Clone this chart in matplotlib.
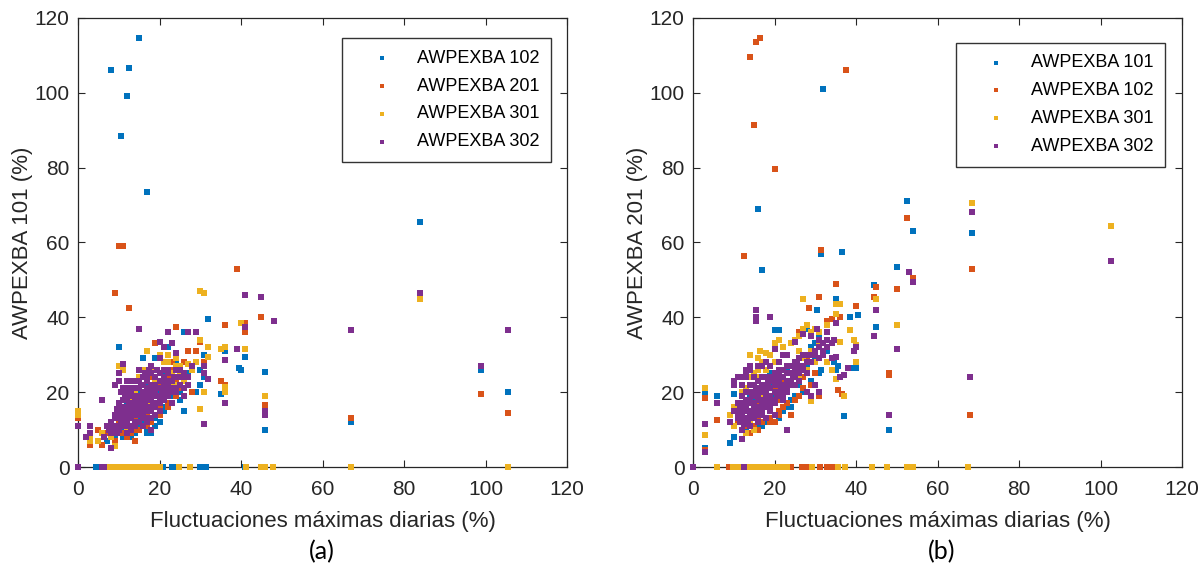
import matplotlib
matplotlib.use("Agg")
import matplotlib.pyplot as plt

plt.rcParams['font.family'] = ['Liberation Sans', 'DejaVu Sans']

colors = ['#0072BD', '#D95319', '#EDB120', '#7E2F8E']

# ---------------- Panel (a): y = AWPEXBA 101 ----------------
a_labels = ['AWPEXBA 102', 'AWPEXBA 201', 'AWPEXBA 301', 'AWPEXBA 302']

a_102 = [(15, 114.5), (8, 106), (12.5, 106.5), (12, 99), (10.5, 88.5), (17, 73.5), (11, 59), (84, 65.5),
         (10, 32), (32, 39.5), (26, 36), (40, 26), (39.5, 26.5), (41, 29.5), (46, 25.5), (46, 10), (36, 31),
         (36, 17), (35, 19.5), (67, 12), (99, 26), (105.5, 20), (30, 22), (22, 32), (19, 29), (16, 29),
         (26, 15), (9, 8), (13, 8), (18, 9), (20, 12),
         (10, 12), (12, 14), (14, 16), (15, 13), (17, 18), (18, 15), (20, 20), (22, 21), (24, 22), (25, 18),
         (27, 25), (28, 27), (30, 26), (31, 24), (11, 10), (13, 11), (16, 12), (19, 11), (21, 15), (23, 19),
         (9, 11), (8, 9), (6, 6), (7, 7), (31, 30), (24, 28), (21, 25), (17, 22), (15, 20), (12, 17), (10, 16),
         (14, 9), (29, 20), (11, 8), (15, 11), (17, 10), (19, 13), (21, 16), (23, 17), (25, 20), (17, 9),
         (13, 10),
         (4.4, 0), (5.4, 0), (20.9, 0), (23, 0), (23.6, 0), (30, 0), (31.4, 0), (41, 0)]

a_201 = [(10, 59), (11, 59), (9, 46.5), (12.5, 42.5), (39, 53), (45, 40), (41, 38.5), (41, 36), (36, 38),
         (24, 37.5), (46, 16.5), (46, 15), (67, 13), (99, 19.5), (105.5, 14.5), (30, 33.5), (29, 31), (27, 31),
         (19, 33), (31, 28), (36, 22), (35, 23), (14, 7), (3, 6), (6, 6), (0, 13),
         (8, 8), (9, 10), (10, 12), (11, 14), (12, 11), (13, 15), (14, 13), (15, 17), (16, 18), (17, 14),
         (18, 20), (19, 19), (20, 22), (21, 18), (22, 24), (23, 26), (24, 23), (25, 21), (26, 28), (28, 20),
         (12, 18), (15, 10), (10, 9), (20, 16), (22, 16), (18, 24), (23, 28), (26, 25), (17, 11), (7, 9),
         (5, 10), (12, 8), (14, 10), (16, 11), (18, 12), (20, 14), (22, 17), (24, 19), (11, 9), (9, 7),
         (13, 9),
         (6, 0)]

a_301 = [(0, 15), (0, 14), (30, 47), (31, 46.5), (40, 38.5), (41, 31.5), (36, 32), (35, 31.5), (32, 32),
         (32, 29.5), (29, 28), (36, 21.5), (36, 20), (31, 20), (30, 15.5), (46, 19), (84, 45), (30, 34),
         (27, 27.5), (24, 29), (21, 28), (17, 31), (3, 8), (3, 7), (9, 5.5), (11, 26), (10, 27), (19, 26),
         (8, 10), (9, 11), (10, 13), (11, 16), (12, 14), (13, 18), (14, 20), (15, 16), (16, 22), (17, 19),
         (18, 17), (19, 23), (20, 21), (21, 24), (22, 19), (23, 25), (24, 22), (25, 27), (26, 23), (28, 26),
         (14, 12), (12, 10), (16, 13), (20, 18), (22, 28), (18, 25), (6, 9), (5, 7),
         (9, 9), (10, 10), (11, 12), (8, 8), (13, 13), (15, 14), (17, 17), (19, 20), (21, 22), (23, 22),
         (25, 25), (13, 21), (15, 24), (16, 26), (20, 30), (22, 30), (24, 27),
         (7.6, 0), (8.3, 0), (9, 0), (9.7, 0), (10.4, 0), (11.1, 0), (11.8, 0), (12.5, 0), (13.2, 0),
         (13.9, 0), (14.6, 0), (15.3, 0), (16, 0), (16.7, 0), (17.4, 0), (18.1, 0), (18.8, 0), (19.5, 0),
         (20.2, 0), (24.8, 0), (27.5, 0), (41.3, 0), (45, 0), (45.8, 0), (47.9, 0), (67, 0), (105.5, 0)]

a_302 = [(0, 11), (3, 11), (3, 9), (2, 8), (6, 18), (8, 5), (15, 37), (41, 46), (45, 45.5), (48, 39),
         (41, 37.5), (39, 31.5), (36, 28.5), (36, 17), (31, 11.5), (31, 25), (32, 23.5), (31, 27), (29, 36),
         (27, 36), (22, 36), (20, 33.5), (23, 33), (24, 30.5), (26, 19), (27, 24), (84, 46.5), (67, 36.5),
         (99, 27), (105.5, 36.5), (46, 14), (46, 15), (11, 27.5), (10, 23), (10, 25), (9, 22), (12, 23),
         (18, 27), (20, 29), (17, 25),
         (8, 12), (9, 13), (9, 10), (10, 14), (10, 11), (11, 12), (11, 15), (11, 18), (12, 13), (12, 16),
         (12, 20), (13, 14), (13, 17), (13, 11), (14, 15), (14, 18), (14, 21), (15, 14), (15, 17), (15, 19),
         (15, 23), (16, 16), (16, 13), (16, 20), (16, 24), (17, 15), (17, 18), (17, 21), (18, 16), (18, 19),
         (18, 22), (18, 13), (19, 17), (19, 20), (19, 24), (20, 18), (20, 21), (20, 15), (21, 19), (21, 22),
         (21, 26), (22, 20), (22, 23), (23, 21), (23, 17), (24, 24), (24, 20), (25, 22), (25, 26), (26, 21),
         (10, 17), (11, 21), (13, 20), (14, 12), (16, 11), (19, 14), (7, 11), (8, 9), (12, 9), (17, 12),
         (13, 23), (15, 26), (17, 24), (22, 26), (20, 25), (18, 10),
         (10, 13), (10, 15), (11, 13), (11, 16), (12, 12), (12, 15), (12, 18), (13, 13), (13, 16), (13, 19),
         (14, 14), (14, 17), (14, 19), (15, 15), (15, 18), (15, 21), (16, 14), (16, 17), (16, 19), (16, 22),
         (17, 16), (17, 19), (17, 23), (18, 15), (18, 18), (18, 21), (18, 25), (19, 16), (19, 19), (19, 22),
         (20, 17), (20, 19), (20, 23), (21, 18), (21, 21), (21, 24), (22, 19), (22, 22), (22, 25), (23, 20),
         (23, 23), (24, 21), (24, 26), (9, 14), (10, 10), (11, 11), (12, 11), (13, 10), (14, 11), (15, 12),
         (16, 15), (17, 13), (9.5, 9), (10.5, 12.5), (11.5, 14.5), (12.5, 17), (13.5, 15), (14.5, 16.5),
         (15.5, 18), (16.5, 17.5), (17.5, 20), (18.5, 17), (19.5, 21), (20.5, 20), (21.5, 23), (22.5, 21),
         (23.5, 24), (11.5, 19), (13.5, 21), (15.5, 22), (17.5, 26), (19.5, 26), (14.5, 23), (12.5, 21),
         (16.5, 25), (10.5, 20), (8.5, 11), (7.5, 10), (6.5, 8), (9.5, 15.5), (25.5, 24), (26, 25), (27, 22),
         (28, 27), (21, 32),
         (0, 0), (5.8, 0), (6.3, 0)]

# ---------------- Panel (b): y = AWPEXBA 201 ----------------
b_labels = ['AWPEXBA 101', 'AWPEXBA 102', 'AWPEXBA 301', 'AWPEXBA 302']

b_101 = [(32, 101), (16, 69), (17, 52.5), (31.5, 57), (36.5, 57.5), (52.5, 71), (54, 63), (68.5, 62.5),
         (50, 53.5), (44.5, 48.5), (35, 45), (30.5, 42), (38.5, 40), (40.5, 40.5), (45, 37.5), (20, 36.5),
         (21, 36.5), (3, 19.5), (6, 19), (3, 5), (9, 6.5), (48, 10), (37, 13.5), (39, 26.5), (40, 26.5),
         (35, 26), (31.5, 26), (34.5, 28), (35.5, 27), (10, 19.5), (14, 19.5), (15, 10), (10, 8), (28, 37),
         (30, 33),
         (11, 14), (12, 12), (13, 16), (14, 13), (15, 18), (16, 15), (17, 20), (18, 17), (19, 22), (20, 19),
         (21, 24), (22, 21), (23, 26), (24, 23), (25, 28), (26, 25), (27, 30), (28, 27), (29, 32), (30, 29),
         (18, 12), (22, 15), (24, 18), (20, 14), (16, 11), (13, 10), (26, 22), (33, 31), (31, 35), (19, 25),
         (17, 11), (21, 13), (23, 16), (25, 19), (27, 20), (29, 23), (31, 25), (24, 16)]

b_102 = [(16.5, 114.5), (15.5, 113.5), (14, 109.5), (37.5, 106), (15, 91.5), (20, 79.5), (12.5, 56.5),
         (31.5, 58), (52.5, 66.5), (54, 50.5), (68.5, 53), (68, 14), (50, 47.5), (45, 48), (44.5, 45.5),
         (35, 49), (31, 45.5), (28.5, 42.5), (34, 39.5), (33, 39), (36, 40), (40, 43), (48, 25), (48, 24.5),
         (35.5, 20.5), (36.5, 19.5), (31, 19), (29, 30.5), (3, 18.5), (6, 12.5), (3, 4.5), (27, 30), (26, 36),
         (11, 12), (12, 14), (13, 11), (14, 15), (15, 13), (16, 17), (17, 14), (18, 19), (19, 16), (20, 21),
         (21, 18), (22, 23), (23, 20), (24, 25), (25, 22), (26, 27), (27, 24), (28, 29), (14, 9), (16, 10),
         (18, 13), (20, 12), (22, 16), (24, 14), (26, 19), (19, 12), (21, 14), (30, 25),
         (15, 11), (17, 12), (19, 13), (21, 15), (23, 17), (25, 18), (27, 21), (29, 22), (16, 12.5), (14, 11),
         (8.8, 0), (24, 0), (26.7, 0), (28, 0), (31.2, 0), (33, 0), (33.6, 0), (34.2, 0)]

b_301 = [(68.5, 70.5), (102.5, 64.5), (50, 38), (45, 45), (36, 43.5), (35, 43.5), (35, 41), (27, 45),
         (38.5, 36.5), (39.5, 34), (40, 28), (40, 32.5), (37, 19), (35, 23.5), (36, 33.5), (3, 21), (3, 8.5),
         (9, 14), (14, 30), (16, 29), (16.5, 31), (18, 30.5), (21, 34), (20, 33), (28, 38), (30, 37),
         (24, 33), (27, 37), (29, 17.5), (34, 26),
         (10, 11), (11, 13), (12, 10), (13, 15), (14, 12), (15, 17), (16, 14), (17, 19), (18, 16), (19, 21),
         (20, 18), (21, 23), (22, 20), (23, 25), (24, 22), (25, 27), (26, 24), (27, 29), (28, 26), (29, 31),
         (30, 28), (31, 33), (32, 30), (12, 19), (14, 22), (16, 24), (18, 26), (20, 28), (15, 10), (13, 9),
         (10, 16), (26, 31), (33, 28),
         (13, 21), (14, 24), (15, 25), (16, 26), (17, 28), (12, 20), (19, 30), (22, 32), (25, 34), (26, 35),
         (29, 36), (31, 36), (33, 38),
         (5.9, 0), (9.8, 0), (10.5, 0), (11.2, 0), (11.9, 0), (12.6, 0), (13.3, 0), (14, 0), (14.7, 0),
         (15.4, 0), (16.1, 0), (16.8, 0), (17.5, 0), (18.2, 0), (18.9, 0), (19.6, 0), (20.3, 0), (21, 0),
         (21.7, 0), (22.4, 0), (23.1, 0), (29.2, 0), (35.6, 0), (37.3, 0), (44, 0), (47.6, 0), (52.5, 0),
         (54, 0), (67.5, 0)]

b_302 = [(68.5, 68), (102.5, 55), (53, 52), (54, 49.5), (50, 31.5), (68, 24), (48, 14), (45, 42), (44.5, 35),
         (39.5, 31), (40, 32), (38, 26.5), (36, 24), (37, 24.5), (35, 38.5), (34.5, 34), (33, 36), (30.5, 37),
         (31, 34), (29, 35), (27, 35.5), (25, 33.5), (22, 30), (20, 31.5), (19, 40), (15.5, 42), (15.5, 40),
         (15.5, 39), (3, 11.5), (3, 4), (6, 17), (10, 22), (9, 12), (12, 7.5), (23, 10), (34, 29), (35, 29.5),
         (28, 20), (29, 19), (31, 20), (26, 26), (30, 22), (32, 30), (33, 32),
         (11, 14), (11, 17), (12, 13), (12, 16), (13, 15), (13, 18), (13, 12), (14, 14), (14, 17), (14, 20),
         (15, 16), (15, 19), (15, 13), (16, 15), (16, 18), (16, 21), (17, 14), (17, 17), (17, 20), (17, 24),
         (18, 16), (18, 19), (18, 22), (19, 15), (19, 18), (19, 21), (19, 24), (20, 17), (20, 20), (20, 23),
         (21, 19), (21, 22), (21, 25), (22, 18), (22, 21), (22, 24), (23, 20), (23, 23), (23, 27), (24, 22),
         (24, 25), (25, 24), (25, 28), (26, 23), (27, 27), (28, 25), (28, 30), (29, 28), (30, 31), (31, 29),
         (32, 33), (12, 10), (14, 11), (16, 12), (18, 13), (20, 14), (10, 15), (13, 24), (15, 24), (16, 27),
         (14, 26), (12, 22), (21, 28), (23, 30),
         (11, 13), (11, 15), (12, 14), (12, 17), (12, 19), (13, 13), (13, 16), (13, 20), (14, 15), (14, 18),
         (14, 22), (15, 14), (15, 17), (15, 20), (15, 22), (16, 16), (16, 19), (16, 23), (17, 15), (17, 18),
         (17, 22), (18, 17), (18, 20), (18, 24), (19, 16), (19, 19), (19, 23), (20, 18), (20, 22), (20, 25),
         (21, 20), (21, 23), (21, 26), (22, 19), (22, 22), (22, 26), (23, 21), (23, 25), (24, 23), (24, 27),
         (25, 22), (25, 26), (26, 25), (26, 29), (27, 26), (27, 30), (28, 28), (29, 30), (30, 30), (31, 32),
         (32, 31), (33, 34), (34, 33), (11.5, 12), (12.5, 11.5), (13.5, 12.5), (14.5, 13), (15.5, 15),
         (16.5, 14), (17.5, 16), (18.5, 18), (19.5, 17), (20.5, 19), (21.5, 21), (22.5, 20), (23.5, 22),
         (11.5, 16), (12.5, 15.5), (13.5, 17.5), (14.5, 19.5), (15.5, 21), (16.5, 20.5), (17.5, 21),
         (18.5, 22.5), (19.5, 24), (20.5, 24), (24.5, 24.5), (25.5, 27.5), (26.5, 27), (13, 26), (14, 27),
         (12, 24), (13, 25), (11, 24), (10, 23), (18, 28), (19, 27), (17, 27),
         (0, 0), (12.5, 0)]

ticks = [0, 20, 40, 60, 80, 100, 120]
xlabel = 'Fluctuaciones máximas diarias (%)'

fig = plt.figure(figsize=(12, 5.7), dpi=100)
ax_a = fig.add_axes([0.065, 0.1807, 0.4075, 0.788])
ax_b = fig.add_axes([0.5775, 0.1807, 0.4075, 0.788])

dark = '#262626'


def draw(ax, series, labels, ylabel, legend_anchor):
    for pts, lab, c in zip(series, labels, colors):
        xs = [p[0] for p in pts]
        ys = [p[1] for p in pts]
        ax.scatter(xs, ys, s=21, marker='s', color=c, linewidths=0, label=lab, zorder=3, clip_on=False)
    ax.set_xlim(0, 120)
    ax.set_ylim(0, 120)
    ax.set_xticks(ticks)
    ax.set_yticks(ticks)
    ax.tick_params(direction='in', length=5, width=0.8, top=True, right=True,
                   labelsize=15, colors=dark)
    ax.tick_params(axis='x', pad=9)
    ax.tick_params(axis='y', pad=6)
    for sp in ax.spines.values():
        sp.set_color(dark)
        sp.set_linewidth(0.9)
    ax.set_xlabel(xlabel, fontsize=16, color=dark, labelpad=9)
    ax.set_ylabel(ylabel, fontsize=16, color=dark, labelpad=1)
    leg = ax.legend(loc='upper right', bbox_to_anchor=legend_anchor, borderaxespad=0,
                    fontsize=13, frameon=True, fancybox=False, edgecolor='black',
                    handletextpad=0.3, borderpad=0.65, labelspacing=0.6,
                    markerscale=0.5, handlelength=3.2)
    leg.get_frame().set_linewidth(1.0)
    for t in leg.get_texts():
        t.set_color('black')


draw(ax_a, [a_102, a_201, a_301, a_302], a_labels, 'AWPEXBA 101 (%)', (0.967, 0.955))
draw(ax_b, [b_101, b_102, b_301, b_302], b_labels, 'AWPEXBA 201 (%)', (0.965, 0.945))

fig.text(0.268, 0.032, '(a)', fontsize=18, ha='center', va='center', family=['Lato', 'DejaVu Sans'])
fig.text(0.785, 0.032, '(b)', fontsize=18, ha='center', va='center', family=['Lato', 'DejaVu Sans'])

fig.savefig('out.png', dpi=100)
